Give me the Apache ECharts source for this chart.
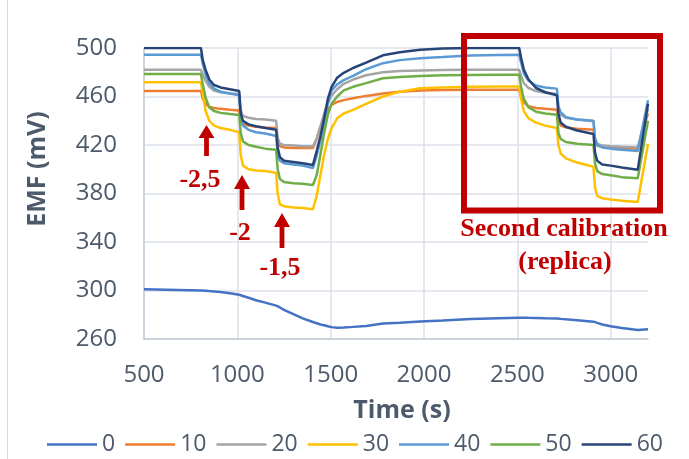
<!DOCTYPE html>
<html>
<head>
<meta charset="utf-8">
<script src="https://cdn.jsdelivr.net/npm/echarts@6/dist/echarts.min.js"></script>
<style>
  html, body { margin: 0; padding: 0; background: #ffffff; }
  #chart { width: 689px; height: 459px; }
</style>
</head>
<body>
<div id="chart"></div>
<script>
// Sampling times (s), shared by every trace
const time = [
  500, 805, 815, 830, 850, 875, 910, 960, 1010, 1018,
  1030, 1060, 1100, 1150, 1208, 1216, 1228, 1250, 1300, 1350,
  1405, 1425, 1445, 1465, 1485, 1505, 1535, 1570, 1620, 1690,
  1780, 1870, 1980, 2100, 2250, 2400, 2510, 2520, 2535, 2560,
  2600, 2650, 2712, 2720, 2732, 2760, 2820, 2908, 2916, 2928,
  2955, 3000, 3060, 3145, 3200
];

// EMF (mV) of each electrode trace
const emf0 = [
  301, 300, 300, 299.8, 299.5, 299.2, 298.7, 297.8, 296.5, 296.2,
  295.5, 294, 292, 290, 287.5, 287, 286, 284, 280.5, 277,
  274, 273, 272, 271.3, 270.5, 269.8, 269.2, 269.5, 270, 270.8,
  272.8, 273.5, 274.5, 275.3, 276.5, 277.2, 277.6, 277.6, 277.6, 277.5,
  277.4, 277.2, 277, 276.8, 276.6, 276.2, 275.5, 274.3, 274, 273.3,
  272, 270.5, 269, 267.5, 268
];
const emf10 = [
  464.5, 464.5, 458, 454, 451.5, 450.5, 449.8, 449, 448.5, 441,
  437.5, 436, 435, 434.5, 434, 423, 419, 418, 417.5, 417.5,
  417.5, 425, 435, 443, 449, 453, 455.5, 457, 458.5, 460.5,
  462.5, 464, 465, 465.3, 465.5, 465.5, 465.5, 460, 455, 452,
  450.5, 449.8, 449, 440, 436, 434.5, 433.5, 432.5, 423, 419.5,
  418.5, 418, 417.5, 417, 446
];
const emf20 = [
  482, 482, 478, 473, 468, 465, 463.5, 462.5, 462, 449,
  444, 442.5, 441.5, 441, 440, 426, 421, 420, 419.5, 419,
  419, 425, 435, 446, 455, 461, 466, 470.5, 474, 477.5,
  480, 481, 481.5, 481.8, 482, 482, 482, 477, 471, 467,
  464.5, 463, 462, 450, 445, 442.5, 441, 439.5, 426, 421,
  419.5, 419, 418.5, 418, 450
];
const emf30 = [
  471.7, 471.7, 462, 448, 440, 436, 434, 432.5, 430.5, 412,
  403, 400, 399, 398.5, 397, 380, 371, 369.5, 368.5, 368,
  367, 378, 395, 412, 425, 434, 442, 446, 449, 454,
  460, 464, 466.8, 467.5, 468, 468.3, 468.3, 458, 448, 442,
  438.5, 436, 434, 420, 413, 409, 405.5, 402, 385, 378,
  376, 375, 374, 373, 421
];
const emf40 = [
  494.5, 494.5, 487, 478, 471, 466.5, 464, 462.5, 461, 443,
  436, 432.5, 430.5, 429.5, 427.5, 413, 407, 405, 404, 403,
  401, 411, 424, 438, 454, 465, 470, 473.5, 477, 482.5,
  487.5, 490, 491.5, 492.5, 493.8, 494.3, 494.5, 488, 479, 473,
  469, 467.5, 466.5, 452, 447, 443, 441, 440, 425, 420,
  418, 417, 416, 415, 457
];
const emf50 = [
  478.6, 478.6, 470, 459, 451, 448, 446.5, 445.5, 444.8, 430,
  423, 420, 418.5, 417, 416, 400, 392, 389.5, 388.5, 388,
  387, 395, 412, 430, 445, 454, 460, 465, 468, 471,
  475, 476, 477, 477.5, 477.8, 477.9, 477.9, 468, 458, 451,
  447.5, 446, 445, 430, 425, 422.5, 421, 420, 405, 398.5,
  396, 395, 393.5, 392.5, 440
];
const emf60 = [
  500, 500, 490, 482, 474, 469.5, 467.5, 466, 464.5, 446,
  440, 437, 435.5, 434, 432.5, 418, 410, 407, 406, 405,
  403.5, 415, 427, 442, 458, 468, 475.5, 479.5, 483.5, 488,
  494, 496.5, 498.5, 499.5, 500, 500, 500, 492, 482, 474,
  467, 463.5, 461, 446, 438.5, 435, 432, 429, 414, 407,
  404, 403, 401.5, 399.5, 454
];

const seriesNames = ['0', '10', '20', '30', '40', '50', '60'];
const seriesValues = [emf0, emf10, emf20, emf30, emf40, emf50, emf60];
const seriesColors = ['#4472C4', '#ED7D31', '#A5A5A5', '#FFC000', '#5B9BD5', '#70AD47', '#264478'];

// Axis scales
const timeMin = 500, timeMax = 3200, timeStep = 500;
const emfMin = 260, emfMax = 500, emfStep = 40;

// Step annotation labels
const stepLabels = ['-2,5', '-2', '-1,5'];

const textColor = '#4D5A6B';
const gridColor = '#DDE2EA';
const axisColor = '#C5CCD8';
const red = '#C00000';

function arrowShape(cx, tipY, baseY, tailY) {
  const hw = 8, sw = 2.4;
  return [
    [cx, tipY], [cx + hw, baseY], [cx + sw, baseY], [cx + sw, tailY],
    [cx - sw, tailY], [cx - sw, baseY], [cx - hw, baseY]
  ];
}

const arrows = [
  { cx: 206.5, tip: 125, base: 138, tail: 156, lx: 200, ly: 180 },
  { cx: 242, tip: 175, base: 189, tail: 210, lx: 240, ly: 233 },
  { cx: 282, tip: 213, base: 227, tail: 248, lx: 280, ly: 268 }
];

const graphics = [
  { type: 'line', shape: { x1: 7.5, y1: 0, x2: 7.5, y2: 459 },
    style: { stroke: '#D9D9D9', lineWidth: 1 }, silent: true },
  { type: 'rect', shape: { x: 464, y: 36, width: 196, height: 174.5 },
    style: { fill: 'none', stroke: red, lineWidth: 6 }, z: 100 },
  { type: 'text', x: 564, y: 229, z: 100,
    style: { text: 'Second calibration', fill: red, font: 'bold 26px "Liberation Serif", "Times New Roman", serif',
      textAlign: 'center', textVerticalAlign: 'middle' } },
  { type: 'text', x: 565, y: 262, z: 100,
    style: { text: '(replica)', fill: red, font: 'bold 26px "Liberation Serif", "Times New Roman", serif',
      textAlign: 'center', textVerticalAlign: 'middle' } },
  { type: 'text', x: 38, y: 169, rotation: Math.PI / 2, z: 100,
    style: { text: 'EMF (mV)', fill: textColor, font: 'bold 25px "Open Sans", sans-serif',
      textAlign: 'center', textVerticalAlign: 'middle' } }
];
arrows.forEach((a, i) => {
  graphics.push({ type: 'polygon', z: 100, shape: { points: arrowShape(a.cx, a.tip, a.base, a.tail) },
    style: { fill: red } });
  graphics.push({ type: 'text', x: a.lx, y: a.ly, z: 100,
    style: { text: stepLabels[i], fill: red, font: 'bold 26px "Liberation Serif", "Times New Roman", serif',
      textAlign: 'center', textVerticalAlign: 'middle' } });
});

const chart = echarts.init(document.getElementById('chart'), null, { renderer: 'canvas' });
chart.setOption({
  animation: false,
  backgroundColor: '#ffffff',
  grid: { left: 144, right: 41, top: 48, bottom: 120, containLabel: false },
  xAxis: {
    type: 'value', min: timeMin, max: timeMax, interval: timeStep,
    name: 'Time (s)', nameLocation: 'middle', nameGap: 59,
    nameTextStyle: { color: textColor, fontSize: 25, fontWeight: 'bold', fontFamily: 'Open Sans', padding: [0, 0, 0, 12] },
    axisLine: { show: true, lineStyle: { color: axisColor, width: 1.5 } },
    axisTick: { show: false },
    axisLabel: { color: textColor, fontSize: 24, fontFamily: 'Open Sans', margin: 24, showMaxLabel: false,
      formatter: (v) => String(v) },
    splitLine: { show: true, showMaxLine: false, lineStyle: { color: gridColor, width: 1.5 } }
  },
  yAxis: {
    type: 'value', min: emfMin, max: emfMax, interval: emfStep,
    axisLine: { show: true, lineStyle: { color: axisColor, width: 1.5 } },
    axisTick: { show: false },
    axisLabel: { color: textColor, fontSize: 24, fontFamily: 'Open Sans', margin: 27,
      formatter: (v) => String(v) },
    splitLine: { show: true, lineStyle: { color: gridColor, width: 1.5 } }
  },
  legend: {
    data: seriesNames,
    left: 42, top: 428,
    icon: 'rect',
    itemWidth: 50, itemHeight: 2.5, itemGap: 10,
    textStyle: { color: textColor, fontSize: 23, fontFamily: 'Open Sans' }
  },
  series: seriesNames.map((name, k) => ({
    name: name,
    type: 'line',
    symbol: 'none',
    color: seriesColors[k],
    lineStyle: { width: 2.5, color: seriesColors[k] },
    data: time.map((t, i) => [t, seriesValues[k][i]])
  })),
  graphic: graphics
});
</script>
</body>
</html>
